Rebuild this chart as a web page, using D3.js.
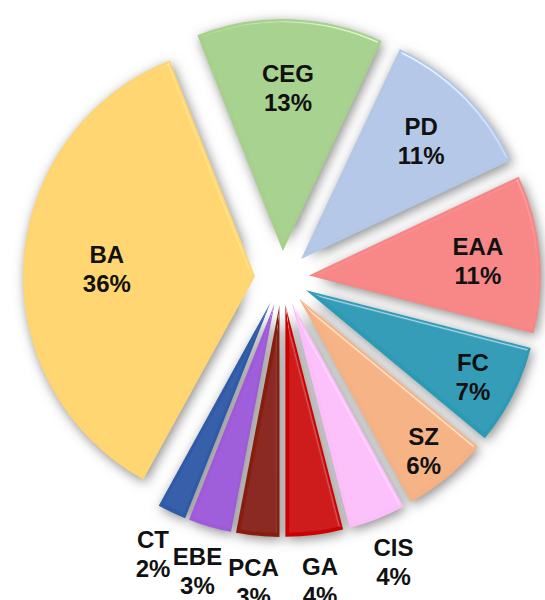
<!DOCTYPE html>
<meta charset="utf-8">
<script src="https://cdn.jsdelivr.net/npm/d3@7"></script>
<style>
body {margin: 0; background: #fff;}
.label {
  font-family: "Liberation Sans", Arial, sans-serif;
  font-weight: bold;
  font-size: 24px;
  fill: #111;
  text-anchor: middle;
}
</style>
<div id="vis"></div>
<script>

// Slices, clockwise from the top
var categories = ["CEG", "PD", "EAA", "FC", "SZ", "CIS", "GA", "PCA", "EBE", "CT", "BA"];
var shares = [13, 11, 11, 7, 6, 4, 4, 3, 3, 2, 36];
var colors = ["#a6d08c", "#b4c7e7", "#f78686", "#2a9bb5", "#f4b183", "#fbbef9",
              "#cc0505", "#881c0e", "#9e5ad8", "#2e5aa8", "#fed56f"];

var w = 545, h = 600;
var cx = 282, cy = 278;
var radius = 232, explode = 27;

var svg = d3.select("#vis").append("svg")
    .attr("width", w)
    .attr("height", h);

var defs = svg.append("defs");

// soft grey shadow round the slices
var shadow = defs.append("filter").attr("id", "shadow")
    .attr("x", "-20%").attr("y", "-20%").attr("width", "140%").attr("height", "140%");
shadow.append("feGaussianBlur").attr("in", "SourceAlpha").attr("stdDeviation", 6).attr("result", "b");
shadow.append("feOffset").attr("in", "b").attr("dx", 2).attr("dy", 3).attr("result", "o");
shadow.append("feFlood").attr("flood-color", "#6e6e6e").attr("flood-opacity", 0.8);
shadow.append("feComposite").attr("in2", "o").attr("operator", "in");

// bevel highlight on the slices
var bevel = defs.append("filter").attr("id", "bevel");
bevel.append("feGaussianBlur").attr("in", "SourceAlpha").attr("stdDeviation", 1.8).attr("result", "blur");
var spec = bevel.append("feSpecularLighting").attr("in", "blur")
    .attr("surfaceScale", 4).attr("specularConstant", 0.9)
    .attr("specularExponent", 25).attr("lighting-color", "#ffffff").attr("result", "spec");
spec.append("feDistantLight").attr("azimuth", 300).attr("elevation", 30);
bevel.append("feComposite").attr("in", "spec").attr("in2", "SourceAlpha")
    .attr("operator", "in").attr("result", "specIn");
bevel.append("feComposite").attr("in", "SourceGraphic").attr("in2", "specIn")
    .attr("operator", "arithmetic").attr("k1", 0).attr("k2", 1).attr("k3", 0.45).attr("k4", 0);

var glow = defs.append("radialGradient").attr("id", "glow");
glow.append("stop").attr("offset", "0%").attr("stop-color", "#fff").attr("stop-opacity", 1);
glow.append("stop").attr("offset", "55%").attr("stop-color", "#fff").attr("stop-opacity", 0.9);
glow.append("stop").attr("offset", "100%").attr("stop-color", "#fff").attr("stop-opacity", 0);

var start = -21.6 * Math.PI / 180;
var pie = d3.pie().sort(null)
    .startAngle(start)
    .endAngle(start + 2 * Math.PI)
    .value(function(d) { return d; });

var arcs = pie(shares);
var arc = d3.arc().innerRadius(0).outerRadius(radius);

function mid(d) { return (d.startAngle + d.endAngle) / 2; }
function shift(d, r) {
  var a = mid(d);
  return [Math.sin(a) * r, -Math.cos(a) * r];
}

var g = svg.append("g").attr("transform", "translate(" + cx + "," + cy + ")");

// shadows
g.append("g").attr("filter", "url(#shadow)")
  .selectAll("path")
  .data(arcs)
  .enter().append("path")
    .attr("transform", function(d) { return "translate(" + shift(d, explode) + ")"; })
    .attr("d", arc);

// white glow in the middle
g.append("circle").attr("r", 55).attr("fill", "url(#glow)");

// slices
g.selectAll(".slice")
  .data(arcs)
  .enter().append("path")
    .attr("class", "slice")
    .attr("transform", function(d) { return "translate(" + shift(d, explode) + ")"; })
    .attr("d", arc)
    .attr("fill", function(d, i) { return colors[i]; })
    .attr("filter", "url(#bevel)");

// labels: small slices outside, others inside (bigger slices nearer the middle)
var labels = g.selectAll(".label")
  .data(arcs)
  .enter().append("text")
    .attr("class", "label")
    .attr("transform", function(d) {
      var r = d.data <= 4 ? radius + 44 : radius * (0.6 + 1.45 / d.data);
      var p = shift(d, explode + r);
      return "translate(" + p + ")";
    });

labels.append("tspan")
    .attr("x", 0).attr("y", -4)
    .text(function(d, i) { return categories[i]; });
labels.append("tspan")
    .attr("x", 0).attr("y", 25)
    .text(function(d) { return d.data + "%"; });

</script>
